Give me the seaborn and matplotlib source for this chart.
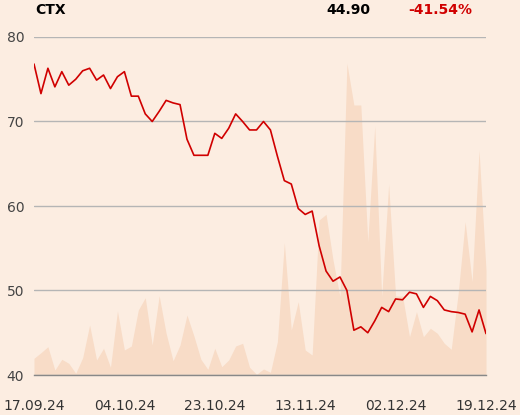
import matplotlib
matplotlib.use("Agg")
import matplotlib.pyplot as plt
import seaborn as sns
import pandas as pd

# daily close prices (66 trading days)
price = [76.8, 73.3, 76.3, 74.1, 75.9, 74.3, 75.0, 76.0, 76.3, 74.9,
         75.5, 73.9, 75.3, 75.9, 73.0, 73.0, 70.9, 70.0, 71.2, 72.5,
         72.2, 72.0, 67.9, 66.0, 66.0, 66.0, 68.6, 68.0, 69.2, 70.9,
         70.0, 69.0, 69.0, 70.0, 69.0, 65.9, 63.0, 62.6, 59.7, 59.0,
         59.4, 55.3, 52.3, 51.1, 51.6, 50.0, 45.3, 45.7, 45.0, 46.4,
         48.0, 47.5, 49.0, 48.9, 49.8, 49.6, 48.0, 49.3, 48.8, 47.7,
         47.5, 47.4, 47.2, 45.1, 47.7, 44.9]

# daily volume (thousands)
volume = [167, 223, 283, 50, 157, 117, 17, 173, 500, 150,
          267, 77, 640, 250, 290, 650, 773, 300, 793, 417,
          143, 300, 600, 390, 157, 57, 267, 83, 150, 290,
          317, 77, 7, 60, 27, 333, 1323, 450, 733, 250,
          200, 1550, 1607, 1150, 783, 3117, 2700, 2700, 1333, 2490,
          783, 1907, 790, 790, 383, 633, 383, 467, 417, 317,
          257, 817, 1533, 933, 2250, 1050]

tick_pos = [0, 13, 26, 39, 52, 65]
tick_labels = ['17.09.24', '04.10.24', '23.10.24', '13.11.24', '02.12.24', '19.12.24']
y_ticks = [40, 50, 60, 70, 80]

ticker = 'CTX'
last_price = '44.90'
change = '-41.54%'

bg = '#fcede1'
red = '#d00000'

sns.set_style('white')
plt.rcParams['font.family'] = ['DejaVu Sans']

df = pd.DataFrame({'day': range(len(price)), 'price': price, 'volume': volume})

fig = plt.figure(figsize=(5.2, 4.15), dpi=100, facecolor=bg)
ax = fig.add_axes([34 / 520, 40 / 415, 452 / 520, 338 / 415])
ax2 = ax.twinx()
ax.set_zorder(ax2.get_zorder() + 1)
ax.patch.set_visible(False)

# volume area in the back
ax2.fill_between(df['day'], df['volume'], color='#f8dcc7', lw=0)
ax2.set_ylim(0, 3380)
ax2.set_axis_off()

# price line
sns.lineplot(data=df, x='day', y='price', ax=ax, color=red, lw=1.2)

ax.set_xlim(0, 65)
ax.set_ylim(40, 80)
ax.set_yticks(y_ticks)
ax.set_xticks(tick_pos)
ax.set_xticklabels(tick_labels)
ax.set_xlabel('')
ax.set_ylabel('')
ax.grid(axis='y', color='#b5b5b5', lw=1)
ax.grid(axis='x', visible=False)
for s in ['top', 'right', 'left']:
    ax.spines[s].set_visible(False)
ax.spines['bottom'].set_color('#888888')
ax.spines['bottom'].set_linewidth(1)
ax.tick_params(axis='x', length=10, width=1, color='#888888', pad=7,
               labelsize=10, labelcolor='#333333')
ax.tick_params(axis='y', length=0, pad=7, labelsize=10, labelcolor='#444444')

fig.text(35 / 520, 1 - 10 / 415, ticker, fontsize=10, fontweight='bold',
         ha='left', va='center', color='black')
fig.text(370 / 520, 1 - 10 / 415, last_price, fontsize=10, fontweight='bold',
         ha='right', va='center', color='black')
fig.text(472 / 520, 1 - 10 / 415, change, fontsize=10, fontweight='bold',
         ha='right', va='center', color=red)

fig.savefig('out.png', dpi=100, facecolor=bg)
